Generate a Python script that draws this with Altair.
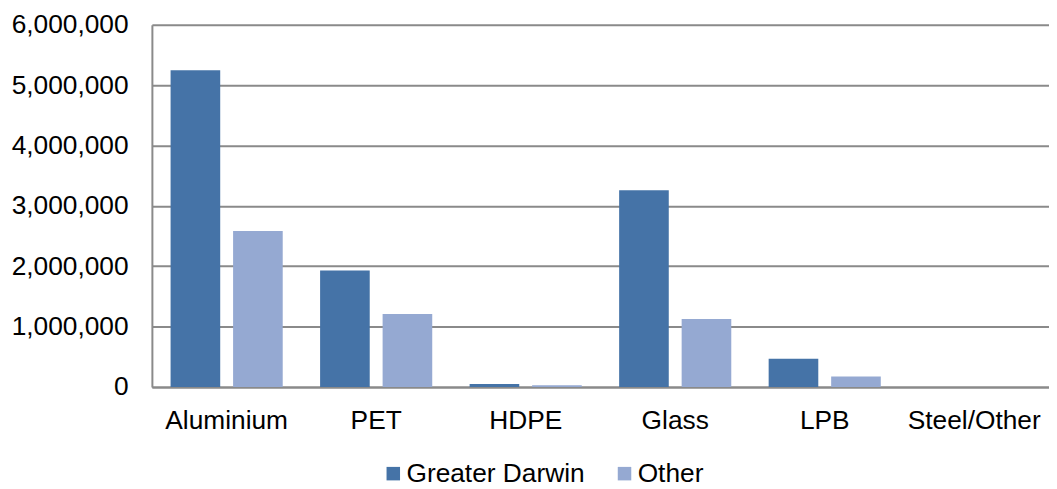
import altair as alt
import pandas as pd

categories = ["Aluminium", "PET", "HDPE", "Glass", "LPB", "Steel/Other"]
series = ["Greater Darwin", "Other"]
greater_darwin = [5244000, 1927000, 48000, 3259000, 465000, 0]
other = [2582000, 1208000, 30000, 1125000, 173000, 0]
y_ticks = [0, 1000000, 2000000, 3000000, 4000000, 5000000, 6000000]

rows = []
for c, g, o in zip(categories, greater_darwin, other):
    rows.append({"Material": c, "Series": series[0], "Value": g})
    rows.append({"Material": c, "Series": series[1], "Value": o})
df = pd.DataFrame(rows)

FONT = "Liberation Sans"

chart = alt.Chart(df).mark_bar().encode(
    x=alt.X("Material:N", sort=categories, title=None,
            scale=alt.Scale(paddingInner=0.25, paddingOuter=0.125),
            axis=alt.Axis(labelAngle=0, labelFontSize=26.5, labelFont=FONT, labelColor="#000000",
                          labelPadding=21, ticks=False, domainColor="#8a8a8a", domainWidth=2,
                          labelLimit=0)),
    xOffset=alt.XOffset("Series:N", sort=series,
                        scale=alt.Scale(paddingInner=0.206, paddingOuter=0)),
    y=alt.Y("Value:Q", title=None,
            scale=alt.Scale(domain=[0, 6000000], nice=False),
            axis=alt.Axis(values=y_ticks, format=",d", labelFontSize=26.5, labelFont=FONT,
                          labelColor="#000000", labelPadding=24, ticks=False,
                          domainColor="#8a8a8a", domainWidth=2, labelLimit=0,
                          grid=True, gridColor="#8a8a8a", gridWidth=2)),
    color=alt.Color("Series:N", sort=series,
                    scale=alt.Scale(domain=series, range=["#4573A7", "#95A9D2"]),
                    legend=alt.Legend(title=None, orient="none", direction="horizontal",
                                      legendX=230, legendY=439, symbolType="square",
                                      symbolSize=185, symbolStrokeWidth=0,
                                      labelFontSize=26.5, labelFont=FONT, labelColor="#000000",
                                      labelOffset=0, columnPadding=26, labelLimit=0)),
).properties(
    width=904, height=365,
    autosize=alt.AutoSizeParams(type="none"),
    padding={"left": 145, "top": 15, "right": 0, "bottom": 101},
).configure_view(stroke=None)

chart.save("out.html", embed_options={"renderer": "svg", "actions": False})
